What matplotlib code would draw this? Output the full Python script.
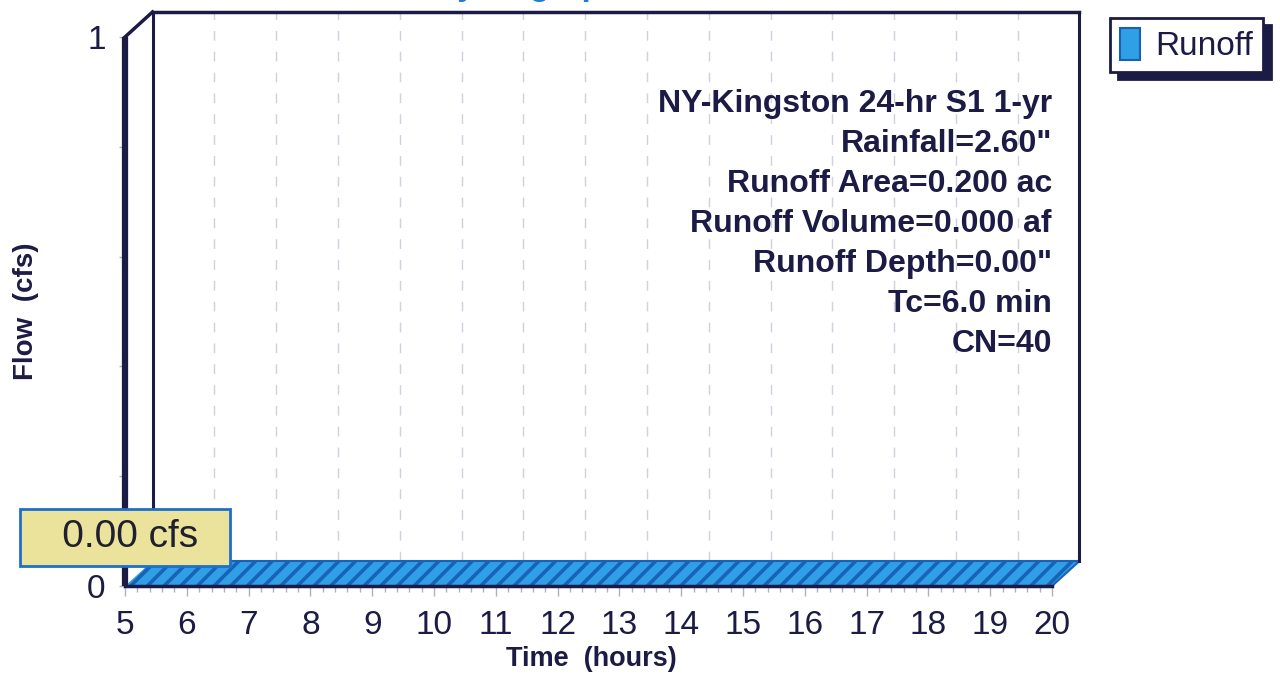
import numpy as np
import matplotlib
matplotlib.use('Agg')
import matplotlib.pyplot as plt
from matplotlib.patches import Polygon, Patch
from matplotlib.ticker import MultipleLocator

plt.rcParams['font.family'] = ['Liberation Sans', 'DejaVu Sans']
plt.rcParams['hatch.linewidth'] = 2.6

# Subcatchment S1 runoff hydrograph
time_hr = [5, 6, 7, 8, 9, 10, 11, 12, 13, 14, 15, 16, 17, 18, 19, 20]
flow_cfs = [0.00, 0.00, 0.00, 0.00, 0.00, 0.00, 0.00, 0.00,
            0.00, 0.00, 0.00, 0.00, 0.00, 0.00, 0.00, 0.00]
hour_ticks = list(range(5, 21))
flow_ticks = [0, 0.2, 0.4, 0.6, 0.8, 1.0]
flow_ticklabels = ['0', '', '', '', '', '1']
series_name = 'Runoff'
info_lines = ['NY-Kingston 24-hr S1 1-yr',
              'Rainfall=2.60"',
              'Runoff Area=0.200 ac',
              'Runoff Volume=0.000 af',
              'Runoff Depth=0.00"',
              'Tc=6.0 min',
              'CN=40']

navy = '#1b1b45'
blue = '#2f9fe6'
dark_blue = '#1763b8'
grid_col = '#d0d0e0'

fig = plt.figure(figsize=(12.8, 6.75), dpi=100)
ax = fig.add_axes([125/1280, 89/675, 927/1280, 549/675])
ax.set_xlim(5, 20)
ax.set_ylim(0, 1)
for s in ax.spines.values():
    s.set_visible(False)

# depth of the pseudo-3d box, in data units
dx = 27.5 / 61.8
dy = 25.0 / 549

t = np.array(time_hr, dtype=float)
q = np.array(flow_cfs, dtype=float)
x0, x1 = t[0], t[-1]

# back wall grid
for h in hour_ticks[1:-1]:
    ax.plot([h + dx, h + dx], [dy, 1 + dy], color=grid_col, lw=1,
            dashes=(7, 8), clip_on=False, zorder=1)

# flow slab (top face of the hydrograph)
front = np.column_stack([t, q])
back = np.column_stack([t + dx, q + dy])[::-1]
slab = Polygon(np.vstack([front, back]), closed=True, facecolor=blue,
               edgecolor=dark_blue, hatch='//', lw=0, clip_on=False, zorder=3)
ax.add_patch(slab)
ax.plot(t + dx, q + dy, color=dark_blue, lw=1.5, clip_on=False, zorder=4)
ax.plot([x1, x1 + dx], [q[-1], q[-1] + dy], color=dark_blue, lw=1.5,
        clip_on=False, zorder=4)
ax.plot(t, q, color=navy, lw=2.5, clip_on=False, zorder=5)

# box frame
ax.plot([x0, x0], [0, 1], color=navy, lw=4.5, clip_on=False, zorder=5,
        solid_capstyle='butt')
ax.plot([x0, x0 + dx], [1, 1 + dy], color=navy, lw=2.5, clip_on=False, zorder=5)
ax.plot([x0 + dx, x1 + dx], [1 + dy, 1 + dy], color=navy, lw=2.5,
        clip_on=False, zorder=5)
ax.plot([x0 + dx, x0 + dx], [dy, 1 + dy], color=navy, lw=2.2,
        clip_on=False, zorder=2)
ax.plot([x1 + dx, x1 + dx], [dy, 1 + dy], color=navy, lw=2.2,
        clip_on=False, zorder=5)

# ticks
ax.set_xticks(hour_ticks)
ax.set_xticklabels([str(h) for h in hour_ticks])
ax.xaxis.set_minor_locator(MultipleLocator(0.2))
ax.set_yticks(flow_ticks)
ax.set_yticklabels(flow_ticklabels)
ax.tick_params(axis='x', which='major', length=7, width=1, color='#b0b0c4',
               pad=10, labelsize=24, labelcolor=navy)
ax.tick_params(axis='x', which='minor', length=4, width=1, color='#b0b0c4')
ax.tick_params(axis='y', length=4, width=1, color='#b0b0c4', pad=10,
               labelsize=24, labelcolor=navy)

ax.set_xlabel('Time  (hours)', fontsize=19.5, fontweight='bold', color=navy)
ax.xaxis.set_label_coords((591 - 125) / 927, (586 - 646) / 549)
ax.set_ylabel('Flow  (cfs)', fontsize=20, fontweight='bold', color=navy)
ax.yaxis.set_label_coords((39 - 125) / 927, (586 - 311) / 549)

# storm / subcatchment summary
for i, line in enumerate(info_lines):
    ax.text(1.0, (586 - 104 - 40 * i) / 549, line, transform=ax.transAxes,
            ha='right', va='center', fontsize=23, fontweight='bold',
            color=navy, zorder=6)

# peak flow label
peak = max(flow_cfs)
ax.annotate(f'   {peak:.2f} cfs  ', xy=(x0, peak), xytext=(0, 49),
            textcoords='offset pixels', ha='center', va='center',
            fontsize=28, color='#1f1f2f', zorder=8, annotation_clip=False,
            bbox=dict(boxstyle='square,pad=0.27', fc='#ebe29c', ec='#1f6fc8',
                      lw=2))

# legend
leg = ax.legend(handles=[Patch(facecolor=blue, edgecolor='#1a5fb0', lw=1.5,
                               label=series_name)],
                loc='upper left', bbox_to_anchor=(1110/1280, 1 - 18/675),
                bbox_transform=fig.transFigure, borderaxespad=0,
                fancybox=False, framealpha=1, edgecolor=navy, fontsize=24,
                handlelength=0.6, handleheight=1.1, handletextpad=0.45,
                borderpad=0.3,
                shadow={'ox': 6, 'oy': -5, 'facecolor': navy,
                        'edgecolor': navy, 'alpha': 1})
leg.get_frame().set_linewidth(2)
for txt in leg.get_texts():
    txt.set_color(navy)

# chart title, mostly above the page edge
fig.text(528/1280, 1 + 5/675, 'Hydrograph', ha='center', va='baseline',
         fontsize=24, fontweight='bold', color='#1b7fd8')

fig.savefig('out.png', dpi=100)
